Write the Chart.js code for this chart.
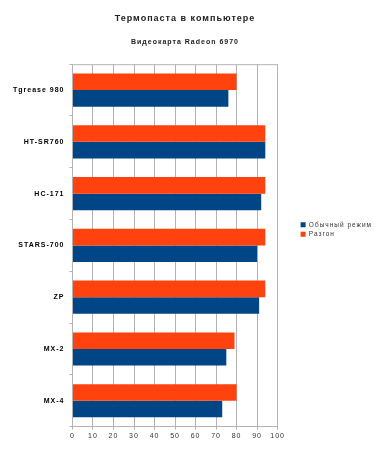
<!DOCTYPE html>
<html>
<head>
<meta charset="utf-8">
<script src="https://cdn.jsdelivr.net/npm/chart.js@4/dist/chart.umd.min.js"></script>
<style>
  html, body { margin: 0; padding: 0; background: #fff; }
  #wrap { width: 377px; height: 456px; }
</style>
</head>
<body>
<div id="wrap"><canvas id="myChart"></canvas></div>
<script>
const pastes = ["Tgrease 980", "HT-SR760", "HC-171", "STARS-700", "ZP", "MX-2", "MX-4"];
const normalMode = [76, 94, 92, 90, 91, 75, 73];
const overclock = [80, 94, 94, 94, 94, 79, 80];
const xTicks = [0, 10, 20, 30, 40, 50, 60, 70, 80, 90, 100];

// spread letters like the original picture, top border line, legend nudged
const spacing = {
  id: "spacing",
  beforeLayout(chart) { chart.ctx.letterSpacing = "1px"; },
  afterLayout(chart) {
    chart.legend.left += 20;
    chart.legend.right += 20;
    chart.legend.top += 5;
    chart.legend.bottom += 5;
  },
  beforeDraw(chart) { chart.ctx.letterSpacing = "1px"; },
  afterDraw(chart) {
    const a = chart.chartArea;
    const ctx = chart.ctx;
    ctx.save();
    ctx.strokeStyle = "#b3b3b3";
    ctx.lineWidth = 1;
    ctx.beginPath();
    ctx.moveTo(a.left, a.top + 0.5);
    ctx.lineTo(a.right, a.top + 0.5);
    ctx.stroke();
    ctx.restore();
  },
};

const ctx = document.getElementById("myChart").getContext("2d");
const myChart = new Chart(ctx, {
  type: "bar",
  data: {
    labels: pastes,
    datasets: [
      {
        label: "Разгон",
        backgroundColor: "#ff420e",
        data: overclock,
      },
      {
        label: "Обычный режим",
        backgroundColor: "#004586",
        data: normalMode,
      },
    ],
  },
  options: {
    indexAxis: "y",
    responsive: true,
    maintainAspectRatio: false,
    animation: false,
    datasets: { bar: { categoryPercentage: 0.64, barPercentage: 1 } },
    layout: { padding: { left: 8, right: 15, top: 7, bottom: 14 } },
    scales: {
      x: {
        min: 0,
        max: 100,
        afterBuildTicks: (axis) => {
          axis.ticks = xTicks.map((v) => ({ value: v }));
        },
        grid: { color: "#b3b3b3", tickLength: 3 },
        border: { color: "#b3b3b3" },
        ticks: {
          color: "#333",
          font: { family: "Liberation Sans", size: 7 },
          padding: 2,
          maxRotation: 0,
          autoSkip: false,
        },
      },
      y: {
        grid: { drawOnChartArea: false, color: "#b3b3b3", tickLength: 3, offset: true },
        border: { color: "#b3b3b3" },
        ticks: {
          color: "#000",
          font: { family: "Liberation Sans", size: 7, weight: "bold" },
          padding: 5,
        },
      },
    },
    plugins: {
      title: {
        display: true,
        text: "Термопаста в компьютере",
        color: "#222",
        font: { family: "Liberation Sans", size: 9, weight: "bold" },
        padding: { top: 6, bottom: 14 },
      },
      subtitle: {
        display: true,
        text: "Видеокарта Radeon 6970",
        color: "#222",
        font: { family: "Liberation Sans", size: 7, weight: "bold" },
        padding: { top: 0, bottom: 18 },
      },
      legend: {
        position: "right",
        reverse: true,
        labels: {
          boxWidth: 5,
          boxHeight: 5,
          padding: 3,
          color: "#333",
          font: { family: "Liberation Sans", size: 6.5 },
        },
      },
      tooltip: { enabled: false },
    },
  },
  plugins: [spacing],
});
</script>
</body>
</html>
